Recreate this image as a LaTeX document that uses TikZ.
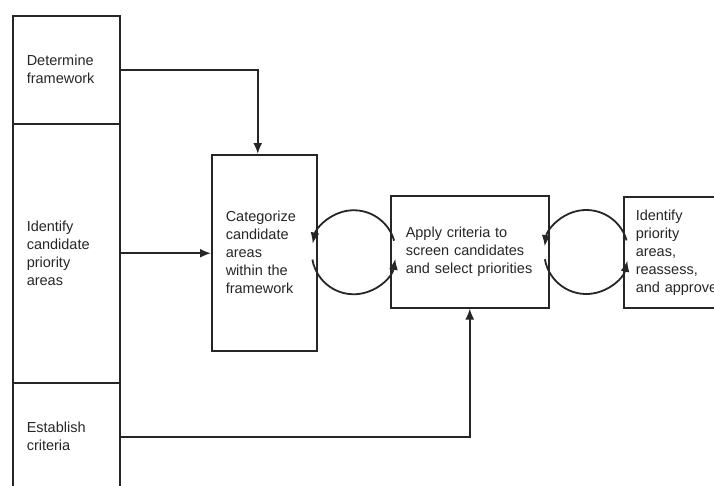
\documentclass[tikz,border=0pt]{standalone}
\usepackage{fontspec}
\setmainfont{Liberation Sans}
\usetikzlibrary{calc,arrows.meta}

\begin{document}
\begin{tikzpicture}[>={Latex[length=11pt,width=9pt]}, x=1pt, y=-1pt, line width=1.5pt, black!85,
        box/.style={draw, align=left, inner ysep=2pt, text=black!85, font=\fontsize{14.5}{18}\selectfont},
        cell/.style={box, anchor=north west, minimum width=107, text width=79, inner xsep=14},
        flow/.style={->, line width=1.8pt}]
        \useasboundingbox (0,0) rectangle (714,485);
        \clip (0,0) rectangle (714,485);
        % 左侧三栏
        \node[cell, minimum height=108] (det) at (12,15) {Determine\\framework};
        \node[cell, minimum height=259] (cand) at (12,123) {Identify\\candidate\\priority\\areas};
        \node[cell, minimum height=108] (est) at (12,382) {Establish\\criteria};
        % 右边三个框
        \node[box, anchor=north west, minimum width=105, minimum height=196, text width=77, inner xsep=14] (cat) at (211,154) {Categorize\\candidate\\areas\\within the\\framework};
        \node[box, anchor=north west, minimum width=158, minimum height=112, text width=128, inner xsep=15] (apply) at (390,195) {Apply criteria to\\screen candidates\\and select priorities};
        \node[box, anchor=north west, minimum width=140, minimum height=111, text width=116, inner xsep=12] (pri) at (623,196) {Identify\\priority\\areas,\\reassess,\\and approve};
        % 箭头
        \draw[flow] (det.east) -| ([xshift=-6.5pt]cat.north);
        \draw[flow] (cand.east) -- (cand.east -| cat.west);
        \draw[flow] (est.east) -| (apply.south);
        % 两个循环
        \coordinate (lp1) at ($(cat.east)!0.5!(apply.west)$);
        \coordinate (lp2) at ($(apply.east)!0.5!(pri.west)$);
        \draw[flow] ([shift={(-16:42)}]lp1) arc[start angle=-16, end angle=-168, radius=42];
        \draw[flow] ([shift={(170:42)}]lp1) arc[start angle=170, end angle=9, radius=42];
        \draw[flow] ([shift={(-16:42)}]lp2) arc[start angle=-16, end angle=-172, radius=42];
        \draw[flow] ([shift={(170:42)}]lp2) arc[start angle=170, end angle=12, radius=42];
    \end{tikzpicture}
\end{document}
